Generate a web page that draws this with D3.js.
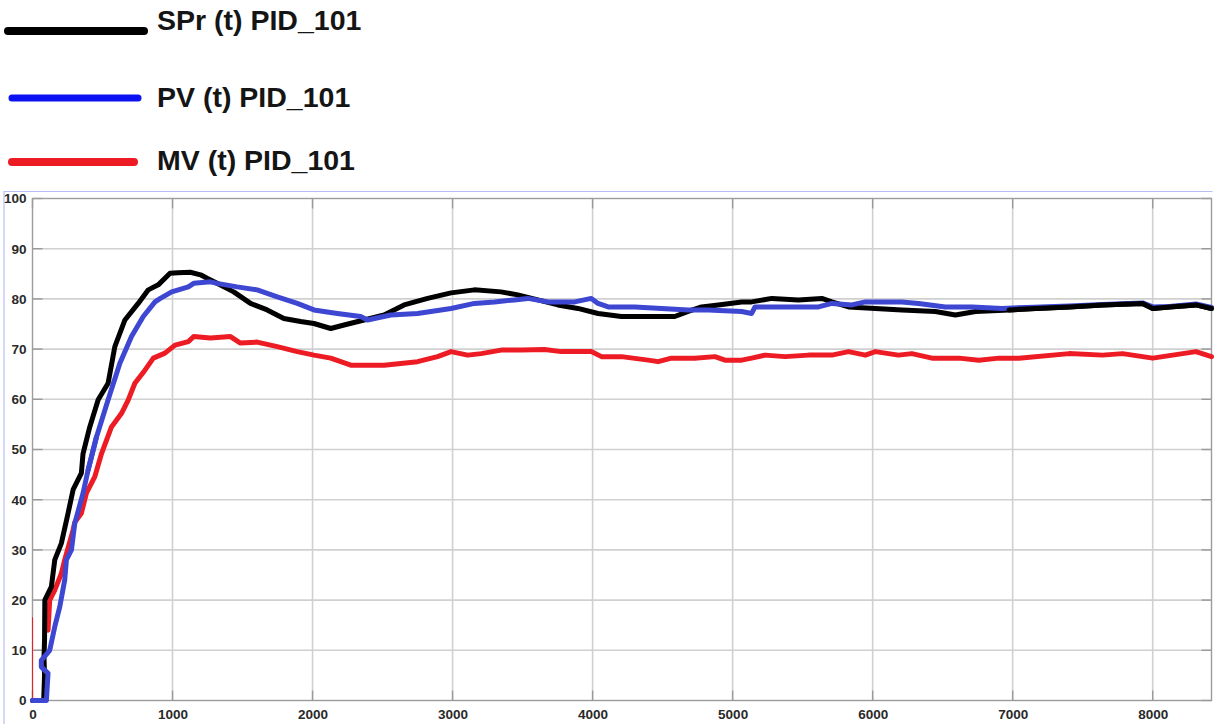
<!DOCTYPE html>
<html>
<head>
<meta charset="utf-8">
<script src="https://cdn.jsdelivr.net/npm/d3@7"></script>
<style>
  html, body { margin: 0; padding: 0; background: #fff; }
  svg { display: block; }
  .tick-label { font-family: "Liberation Sans", Arial, sans-serif; font-weight: bold; font-size: 13.5px; fill: #2a2a2a; }
  .legend-label { font-family: "Liberation Sans", Arial, sans-serif; font-weight: bold; font-size: 28.5px; fill: #151515; }
</style>
</head>
<body>
<svg id="chart" width="1219" height="724"></svg>
<script>
// Axis ticks
const xTicks = [0, 1000, 2000, 3000, 4000, 5000, 6000, 7000, 8000];
const yTicks = [0, 10, 20, 30, 40, 50, 60, 70, 80, 90, 100];
const xMax = 8420;

// Series names
const seriesNames = ["SPr (t) PID_101", "PV (t) PID_101", "MV (t) PID_101"];

// SPr(t) – black
const spTime = [0, 80, 86, 82, 86, 88, 135, 159, 206, 254, 290, 349, 361, 409, 469, 540, 588, 660, 755, 827, 898, 982, 1040, 1127, 1200, 1247, 1318, 1437, 1557, 1676, 1795, 1915, 2010, 2130, 2225, 2368, 2511, 2654, 2822, 2989, 3156, 3346, 3466, 3609, 3752, 3895, 4039, 4206, 4397, 4587, 4683, 4778, 4898, 5065, 5136, 5280, 5471, 5637, 5709, 5828, 6019, 6209, 6448, 6591, 6735, 6974, 7165, 7403, 7642, 7928, 8000, 8119, 8309, 8420];
const spValue = [0, 0, 5, 8.5, 12, 20, 22.7, 28, 31.3, 37.3, 42, 45.3, 49.2, 54.5, 59.9, 63.2, 70.5, 75.8, 79.1, 81.8, 82.8, 85.1, 85.2, 85.3, 84.8, 84.1, 83.1, 81.4, 79.1, 77.8, 76.1, 75.5, 75.1, 74.1, 74.8, 75.8, 76.8, 78.8, 80.1, 81.2, 81.8, 81.4, 80.8, 79.8, 78.8, 78.1, 77.1, 76.5, 76.5, 76.5, 77.5, 78.4, 78.8, 79.4, 79.4, 80.1, 79.8, 80.1, 79.4, 78.4, 78.1, 77.8, 77.5, 76.8, 77.5, 77.8, 78.1, 78.4, 78.8, 79.1, 78.1, 78.4, 78.8, 78.1];

// PV(t) – blue
const pvTime = [0, 99, 111, 63, 63, 123, 159, 195, 230, 242, 278, 302, 361, 397, 457, 540, 624, 707, 791, 875, 913, 994, 1113, 1151, 1271, 1318, 1462, 1605, 1748, 1891, 2010, 2177, 2344, 2392, 2559, 2750, 2989, 3156, 3299, 3442, 3537, 3681, 3872, 3991, 4039, 4111, 4301, 4492, 4683, 4826, 5065, 5136, 5160, 5351, 5614, 5709, 5852, 5948, 6209, 6328, 6519, 6710, 6924, 7100, 7403, 7642, 7928, 8000, 8119, 8309, 8420];
const pvValue = [0, 0, 5.4, 6.7, 8, 10, 14.7, 18.7, 24, 28, 30, 35.3, 41.3, 45.9, 52.5, 59.9, 67.2, 72.5, 76.5, 79.4, 80.1, 81.4, 82.4, 83.1, 83.4, 83.1, 82.4, 81.8, 80.4, 79.1, 77.8, 77.1, 76.5, 75.8, 76.8, 77.1, 78.1, 79.1, 79.4, 79.8, 80.1, 79.4, 79.4, 80.1, 79.1, 78.4, 78.4, 78.1, 77.8, 77.8, 77.5, 77.1, 78.4, 78.4, 78.4, 79.1, 78.8, 79.4, 79.4, 79.1, 78.4, 78.4, 78.1, 78.3, 78.6, 78.9, 79.2, 78.4, 78.5, 79.0, 78.3];

// MV(t) – red
const mvTime = [111, 123, 159, 206, 230, 290, 302, 349, 385, 445, 493, 564, 636, 684, 731, 803, 863, 946, 1018, 1113, 1151, 1271, 1414, 1485, 1605, 1748, 1891, 2010, 2130, 2273, 2511, 2750, 2893, 2989, 3108, 3204, 3346, 3490, 3657, 3776, 3991, 4063, 4206, 4397, 4468, 4563, 4730, 4874, 4945, 5065, 5136, 5232, 5375, 5542, 5709, 5828, 5948, 6019, 6185, 6280, 6424, 6616, 6759, 6902, 7045, 7403, 7642, 7785, 8000, 8309, 8420];
const mvValue = [14, 20, 22, 25.3, 28, 34, 35.5, 37.3, 41.3, 44.6, 49.2, 54.5, 57.2, 59.9, 63.2, 65.8, 68.2, 69.2, 70.8, 71.5, 72.5, 72.2, 72.5, 71.2, 71.4, 70.5, 69.5, 68.8, 68.2, 66.8, 66.8, 67.5, 68.5, 69.5, 68.8, 69.1, 69.8, 69.8, 69.9, 69.5, 69.5, 68.5, 68.5, 67.8, 67.5, 68.2, 68.2, 68.5, 67.8, 67.8, 68.2, 68.8, 68.5, 68.8, 68.8, 69.5, 68.8, 69.5, 68.8, 69.1, 68.2, 68.2, 67.8, 68.2, 68.2, 69.1, 68.8, 69.1, 68.2, 69.5, 68.5];

// MV initial kick at t = 0
const mvKickTime = [0, 0];
const mvKickValue = [0, 16.5];

const svg = d3.select("#chart");

const plot = { left: 32.5, right: 1211.5, top: 198.5, bottom: 700.5 };
const x = d3.scaleLinear().domain([0, xMax]).range([plot.left, plot.right]);
const y = d3.scaleLinear().domain([0, 100]).range([plot.bottom, plot.top]);

// Outer light frame
svg.append("path")
  .attr("d", `M4,724V191.5H1212.5`)
  .attr("fill", "none")
  .attr("stroke", "#b9bdf6")
  .attr("stroke-width", 1.2);

// Grid lines
const grid = svg.append("g");
grid.selectAll(".gx").data(xTicks.filter(d => d > 0)).join("line")
  .attr("x1", d => x(d)).attr("x2", d => x(d))
  .attr("y1", plot.top).attr("y2", plot.bottom)
  .attr("stroke", "#d0d0d0").attr("stroke-width", 1.6);
grid.selectAll(".gy").data(yTicks.filter(d => d > 0 && d < 100)).join("line")
  .attr("x1", plot.left).attr("x2", plot.right)
  .attr("y1", d => y(d)).attr("y2", d => y(d))
  .attr("stroke", "#d0d0d0").attr("stroke-width", 1.6);

// Inner tick marks on all four sides
const tickLen = 10;
const tickG = svg.append("g").attr("stroke", "#9a9a9a").attr("stroke-width", 1.4);
xTicks.forEach(d => {
  tickG.append("line").attr("x1", x(d)).attr("x2", x(d)).attr("y1", plot.bottom).attr("y2", plot.bottom - tickLen);
  tickG.append("line").attr("x1", x(d)).attr("x2", x(d)).attr("y1", plot.top).attr("y2", plot.top + tickLen);
});
yTicks.forEach(d => {
  tickG.append("line").attr("x1", plot.left).attr("x2", plot.left + tickLen).attr("y1", y(d)).attr("y2", y(d));
  tickG.append("line").attr("x1", plot.right).attr("x2", plot.right - tickLen).attr("y1", y(d)).attr("y2", y(d));
});

// Plot border
svg.append("rect")
  .attr("x", plot.left).attr("y", plot.top)
  .attr("width", plot.right - plot.left).attr("height", plot.bottom - plot.top)
  .attr("fill", "none").attr("stroke", "#9c9c9c").attr("stroke-width", 1.4);

// Axis labels through d3 axes
const xAxis = d3.axisBottom(x).tickValues(xTicks).tickSize(0).tickPadding(9).tickFormat(d3.format("d"));
const yAxis = d3.axisLeft(y).tickValues(yTicks).tickSize(0).tickPadding(6).tickFormat(d3.format("d"));
const gx = svg.append("g").attr("transform", `translate(0,${plot.bottom})`).call(xAxis);
const gy = svg.append("g").attr("transform", `translate(${plot.left},0)`).call(yAxis);
[gx, gy].forEach(g => {
  g.select(".domain").remove();
  g.selectAll("text").attr("class", "tick-label").attr("fill", null);
});

// Series lines
const line = d3.line().x(d => x(d[0])).y(d => y(d[1]));
const zip = (t, v) => t.map((d, i) => [d, v[i]]);

const lines = svg.append("g").attr("fill", "none")
  .attr("stroke-linejoin", "round").attr("stroke-linecap", "round");

lines.append("path").datum(zip(mvKickTime, mvKickValue))
  .attr("d", line).attr("stroke", "#f01c24").attr("stroke-width", 1);
lines.append("path").datum(zip(mvTime, mvValue))
  .attr("d", line).attr("stroke", "#ed1c24").attr("stroke-width", 5);
lines.append("path").datum(zip(spTime, spValue))
  .attr("d", line).attr("stroke", "#000").attr("stroke-width", 5);
lines.append("path").datum(zip(pvTime, pvValue).filter(d => d[0] < 500))
  .attr("d", line).attr("stroke", "#3d47d2").attr("stroke-width", 5);
lines.append("path").datum(zip(pvTime, pvValue).filter((d, i) => pvTime[i] >= 397))
  .attr("d", line).attr("stroke", "#3d47d2").attr("stroke-width", 5);
// SPr redrawn over PV after the rise, where the setpoint trace sits on top
lines.append("path").datum(zip(spTime, spValue).filter(d => d[0] >= 6900))
  .attr("d", line).attr("stroke", "#000").attr("stroke-width", 5);

// Legend
const legendColors = ["#000000", "#0b12f2", "#ed1c24"];
const legendRows = [
  { x1: 8, x2: 144, ly: 31, ty: 30, w: 8 },
  { x1: 12, x2: 138, ly: 98, ty: 107, w: 7 },
  { x1: 12, x2: 134, ly: 162, ty: 170, w: 8 }
];
const legend = svg.append("g");
seriesNames.forEach((name, i) => {
  const r = legendRows[i];
  legend.append("line")
    .attr("x1", r.x1).attr("x2", r.x2).attr("y1", r.ly).attr("y2", r.ly)
    .attr("stroke", legendColors[i]).attr("stroke-width", r.w).attr("stroke-linecap", "round");
  legend.append("text").attr("class", "legend-label")
    .attr("x", 157).attr("y", r.ty).text(name);
});
</script>
</body>
</html>
